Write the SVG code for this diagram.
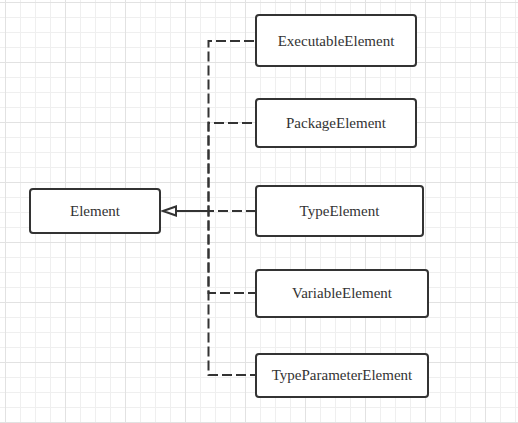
<svg xmlns="http://www.w3.org/2000/svg" width="518" height="423" viewBox="0 0 518 423">
<defs>
<pattern id="minor" x="5" y="2" width="15" height="15" patternUnits="userSpaceOnUse">
<path d="M0.5 0V15M0 0.5H15" stroke="#efefef" stroke-width="1" fill="none"/>
</pattern>
<pattern id="major" x="5" y="2" width="60" height="60" patternUnits="userSpaceOnUse">
<path d="M0.5 0V60M0 0.5H60" stroke="#e2e2e2" stroke-width="1" fill="none"/>
</pattern>
</defs>
<style>
.node rect{fill:#fff;stroke:#333;stroke-width:2}
.node text{font-family:"Liberation Serif","Times New Roman",serif;font-size:15px;fill:#333;text-anchor:middle}
.conn path{fill:none;stroke:#333;stroke-width:2;stroke-dasharray:10 4}
.conn .solid{stroke-dasharray:none}
</style>
<rect width="518" height="423" fill="#fff"/>
<rect width="518" height="423" fill="url(#minor)"/>
<rect width="518" height="423" fill="url(#major)"/>
<g id="connectors" class="conn">
<path d="M176 211H208.5V41H256"/>
<path d="M176 211H208.5V123H256"/>
<path d="M176 211H256"/>
<path d="M176 211H208.5V293H256"/>
<path d="M176 211H208.5V375H256"/>
<path class="solid" d="M208 211H176"/>
<path class="solid" d="M163 211L176 206.5V215.5Z" style="fill:#fff"/>
</g>
<g id="Element" class="node"><rect x="30" y="189" width="130" height="44" rx="3"/><text x="95" y="216">Element</text></g>
<g id="ExecutableElement" class="node"><rect x="256" y="15" width="160" height="51" rx="3"/><text x="336" y="46">ExecutableElement</text></g>
<g id="PackageElement" class="node"><rect x="256" y="99" width="160" height="48" rx="3"/><text x="336" y="128">PackageElement</text></g>
<g id="TypeElement" class="node"><rect x="256" y="186" width="167" height="50" rx="3"/><text x="339.5" y="216">TypeElement</text></g>
<g id="VariableElement" class="node"><rect x="256" y="270" width="172" height="47" rx="3"/><text x="342" y="298">VariableElement</text></g>
<g id="TypeParameterElement" class="node"><rect x="256" y="354" width="172" height="43" rx="3"/><text x="342" y="380">TypeParameterElement</text></g>
</svg>
